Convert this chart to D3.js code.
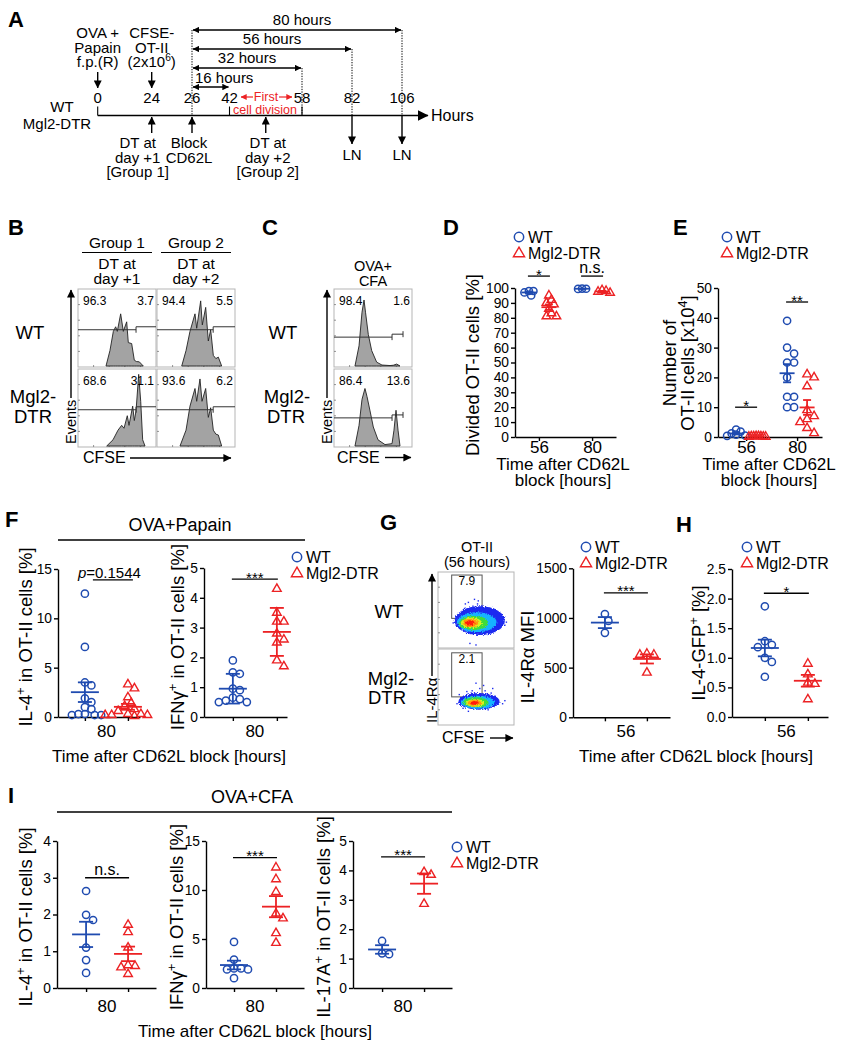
<!DOCTYPE html>
<html>
<head>
<meta charset="utf-8">
<script src="https://cdn.jsdelivr.net/npm/d3@7/dist/d3.min.js"></script>
<style>html,body{margin:0;padding:0;background:#fff;}</style>
</head>
<body>
<svg id="fig" width="846" height="1050" xmlns="http://www.w3.org/2000/svg"></svg>
<script>
// ======================= DATA =======================
// Panel A – experimental timeline (hours)
const timelineHours = [0, 24, 26, 42, 58, 82, 106];
const durationHours = [80, 56, 32, 16];
const blockHour = 26;
const injectionEvents = [
  {h: 0,  lines: ["OVA +", "Papain", "f.p.(R)"]},
  {h: 24, lines: ["CFSE-", "OT-II", "(2x10^6^)"]}
];
const belowEvents = [
  {h: 24, lines: ["DT at", "day +1", "[Group 1]"]},
  {h: 26, lines: ["Block", "CD62L"]},
  {h: 50, lines: ["DT at", "day +2", "[Group 2]"]}
];
const harvestHours = [82, 106];

// Panel B – CFSE histograms: [CFSE (% of axis), events (% of max)]
const histB_WT_G1  = [[35.9,0],[41,21],[45.3,46.8],[48.3,53],[50.4,46.8],[54.7,70.5],[58.1,46.8],[62.4,59.7],[64.5,31.6],[68.8,30.3],[72.2,7.8],[75,6],[78.6,5.6],[83.7,0]];
const histB_WT_G2  = [[31.7,0],[37.2,20.8],[42.3,46.8],[48.7,70.5],[50.9,51],[56,88],[58.1,55.5],[62.4,79.2],[65.8,33.8],[68.8,49],[72.2,14.3],[75.5,10],[78.6,12],[82.9,0]];
const histB_Mgl_G1 = [[36.8,0],[44.9,8.4],[51.3,21.4],[56,27.9],[59,24],[63.2,40.9],[65.4,27.9],[70.1,53.9],[72.2,34.4],[74.4,47.4],[77.8,96.8],[80.4,60.4],[82.9,8.4],[85.9,0]];
const histB_Mgl_G2 = [[29.5,0],[37.2,21.4],[42.3,53.9],[48.7,77.7],[50.9,60.4],[55.1,90.6],[57.7,60.4],[62.4,77.7],[65.8,38.7],[68.8,51.7],[72.2,21.4],[75.5,16],[78.6,14.9],[82.9,0]];
const gateNumsB = [["96.3","3.7"],["94.4","5.5"],["68.6","31.1"],["93.6","6.2"]];
// Panel C – OVA+CFA histograms
const histC_WT  = [[26.9,0],[32.1,27.3],[35.9,72.7],[38.5,89.2],[40.4,72.7],[44,42.5],[48.3,20.8],[54.7,5.2],[61.5,1.3],[71.8,0.6],[76,1],[80.4,2.6],[84.6,0]];
const histC_Mgl = [[26.9,0],[32.1,27.9],[35.9,63],[39.7,77.7],[42.3,66.9],[46.2,47.4],[50.4,25.7],[56.4,8.4],[65.4,1.9],[74.4,3.2],[76.9,21.4],[79.5,48.3],[82.1,21.4],[84.6,0]];
const gateNumsC = [["98.4","1.6"],["86.4","13.6"]];

// Panel G – IL-4Rα vs CFSE density (ellipse levels in % of axes) and sparse events
const flowWT_levels  = [{cx:55,cy:36,rx:33,ry:19},{cx:51,cy:34,rx:26,ry:13},{cx:47,cy:33,rx:19,ry:9.5},{cx:44,cy:33,rx:14,ry:7},{cx:43,cy:33,rx:10,ry:5.5},{cx:42,cy:33,rx:6,ry:3.5}];
const flowMgl_levels = [{cx:54,cy:31,rx:27,ry:11},{cx:52,cy:30,rx:22,ry:8.5},{cx:50,cy:30,rx:17,ry:6.5},{cx:49,cy:29,rx:12,ry:5},{cx:48,cy:29,rx:9,ry:4},{cx:48,cy:29,rx:5.5,ry:2.5}];
const flowWT_events  = [[40,60],[46,55],[52,58],[35,52],[60,50],[48,64],[55,47],[65,45],[30,45],[72,40],[80,38],[85,35],[88,30],[25,30],[20,33],[78,28],[42,6],[50,4],[62,48],[44,50],[38,47],[70,44],[58,55],[33,40],[90,34],[27,38],[68,52],[75,46],[53,62],[36,58]];
const flowMgl_events = [[45,45],[55,48],[62,45],[70,42],[38,44],[30,35],[80,30],[85,28],[25,28],[75,38],[50,55],[60,52],[66,20],[40,18],[33,22],[88,32],[57,40],[48,42],[72,48],[28,40]];
const gatePctG = ["7.9", "2.1"];

// Panel D – divided OT-II cells [%]
const timesDE = [56, 80];
const divWT56  = [95, 97, 98, 98];
const divMgl56 = [95, 92, 90, 89, 86, 83, 81, 81];
const divWT80  = [99.6, 99.5, 99.4];
const divMgl80 = [98.5, 97.5, 96.8, 98];
// Panel E – number of OT-II cells [x10^4]
const numWT56  = [2.5, 1.8, 1.2, 0.8, 0.5, 0.4];
const numMgl56 = [0.3, 0.2, 0.1, 0.2, 0.3, 0.1, 0.2, 0.15];
const numWT80  = [39, 30, 28, 25, 25, 20, 13.5, 13.5, 10, 10];
const numMgl80 = [21, 20, 17, 9, 7, 6, 5, 3, 1.3];
// Panel F – OVA+Papain, 80 h
const fIL4WT  = [12.5, 7.1, 3.5, 3.2, 1.9, 1.5, 1.0, 0.8, 0.3, 0.2, 0.2, 0.3, 0.2];
const fIL4Mgl = [3.3, 2.9, 2.0, 1.4, 1.1, 0.8, 0.6, 0.3, 0.2, 0.2, 0.2, 0.1, 0.3];
const fIFNWT  = [1.9, 1.5, 1.45, 0.95, 0.9, 0.65, 0.6, 0.55, 0.5, 0.5];
const fIFNMgl = [4.3, 3.5, 3.2, 3.2, 2.8, 2.6, 2.5, 1.9, 1.7];
// Panel G – IL-4Rα MFI, 56 h
const gMFIWT  = [1040, 970, 850];
const gMFIMgl = [630, 640, 630, 450];
// Panel H – IL-4-GFP+ [%], 56 h
const hGFPWT  = [1.87, 1.28, 1.22, 1.18, 1.0, 0.93, 0.68];
const hGFPMgl = [0.9, 0.72, 0.58, 0.56, 0.3];
// Panel I – OVA+CFA, 80 h
const iIL4WT   = [2.64, 1.99, 1.85, 1.1, 0.76, 0.41];
const iIL4Mgl  = [1.72, 1.52, 1.1, 0.62, 0.56, 0.6, 0.38];
const iIFNWT   = [4.7, 2.9, 2.0, 2.0, 1.9, 1.9, 1.0];
const iIFNMgl  = [12.3, 11.1, 9.8, 7.6, 7.1, 5.6, 4.6];
const iIL17WT  = [1.6, 1.15, 1.18];
const iIL17Mgl = [3.94, 3.85, 2.86];

// ======================= DRAWING =======================
const FONT = '"Liberation Sans", Arial, Helvetica, sans-serif';
const BLUE = "#1f4bb0", RED = "#ec2224";
const YLAB = 18.5, YTICK = 13.8;
const svg = d3.select("#fig").attr("font-family", FONT);
svg.append("rect").attr("width", 846).attr("height", 1050).attr("fill", "#fff");
const defs = svg.append("defs");

function mkMarker(id, color, w, h) {
  defs.append("marker").attr("id", id).attr("viewBox", "0 0 10 10")
    .attr("refX", 9.5).attr("refY", 5).attr("markerUnits", "userSpaceOnUse")
    .attr("markerWidth", w).attr("markerHeight", h).attr("orient", "auto-start-reverse")
    .append("path").attr("d", "M0,0L10,5L0,10Z").attr("fill", color);
}
mkMarker("ahA", "#000", 8, 8);
mkMarker("ahS", "#000", 7, 6.5);
mkMarker("ahBig", "#000", 11, 12);
mkMarker("ahM", "#000", 9, 8);
mkMarker("ahR", RED, 6, 6);
const flt = defs.append("filter").attr("id", "grain").attr("x", "-20%").attr("y", "-20%").attr("width", "140%").attr("height", "140%");
flt.append("feTurbulence").attr("type", "fractalNoise").attr("baseFrequency", 0.9).attr("numOctaves", 2).attr("seed", 3).attr("result", "n");
flt.append("feDisplacementMap").attr("in", "SourceGraphic").attr("in2", "n").attr("scale", 4).attr("xChannelSelector", "R").attr("yChannelSelector", "G");

function richText(t, str, fs) {
  const segs = str.split("^");
  let shifted = false;
  segs.forEach((s, i) => {
    if (!s) return;
    const sup = i % 2 === 1;
    const ts = t.append("tspan").text(s);
    if (sup) { ts.attr("font-size", fs * 0.68).attr("dy", -fs * 0.38); shifted = true; }
    else if (shifted) { ts.attr("dy", fs * 0.38); shifted = false; }
  });
}
function T(x, y, str, fs, anchor = "middle", o = {}) {
  const t = svg.append("text").attr("x", x).attr("y", y).attr("font-size", fs)
    .attr("text-anchor", anchor).attr("fill", o.fill || "#000");
  if (o.weight) t.attr("font-weight", o.weight);
  if (o.rotate) t.attr("transform", `rotate(-90,${x},${y})`);
  richText(t, str, fs);
  return t;
}
function L(x1, y1, x2, y2, o = {}) {
  const l = svg.append("line").attr("x1", x1).attr("y1", y1).attr("x2", x2).attr("y2", y2)
    .attr("stroke", o.color || "#000").attr("stroke-width", o.w || 1.3);
  if (o.dash) l.attr("stroke-dasharray", o.dash);
  if (o.end) l.attr("marker-end", `url(#${o.end})`);
  if (o.start) l.attr("marker-start", `url(#${o.start})`);
  return l;
}
function letter(x, y, s) { T(x, y, s, 22, "start", {weight: "bold"}); }

// ---------------- Panel A ----------------
letter(8, 27, "A");
const xA = d3.scaleLinear().domain(timelineHours).range([97.7, 151.7, 192, 229.5, 302, 352, 402]);
const axY = 115.5;
L(xA(0), axY, 428, axY, {w: 1.4, end: "ahBig"});
T(431, 121, "Hours", 16, "start");
timelineHours.forEach(h => T(xA(h), 103, String(h), 15));
[0, 42, 58].forEach(h => L(xA(h), 106.5, xA(h), axY, {w: 1.1}));
const durY = [30, 49, 68, 87];
durationHours.forEach((d, i) => {
  const y = durY[i], x1 = xA(blockHour), x2 = xA(blockHour + d);
  L(x1 + 1, y, x2 - 1, y, {w: 1.4, start: "ahS", end: "ahS"});
  if (i < 3) {
    T((x1 + x2) / 2 + (i === 0 ? 5 : 0), y - 5, `${d} hours`, 15);
    L(x2, y, x2, axY, {w: 1, dash: "1.3,1.3"});
  } else {
    T(x1 + 3, y - 4, `${d} hours`, 15, "start");
  }
});
L(xA(blockHour), durY[0], xA(blockHour), axY, {w: 1, dash: "1.3,1.3"});
injectionEvents.forEach(ev => {
  ev.lines.forEach((s, k) => T(xA(ev.h), 38 + k * 14.5, s, 15));
  L(xA(ev.h), 72, xA(ev.h), 88, {w: 1.4, end: "ahA"});
});
const belowShift = [-14, -3, 2];
belowEvents.forEach((ev, i) => {
  L(xA(ev.h), 133, xA(ev.h), 117, {w: 1.4, end: "ahA"});
  ev.lines.forEach((s, k) => T(xA(ev.h) + belowShift[i], 148 + k * 14.5, s, 15));
});
harvestHours.forEach(h => {
  L(xA(h), axY, xA(h), 144, {w: 1.4, end: "ahA"});
  T(xA(h), 160, "LN", 15);
});
T(62, 112, "WT", 15);
T(57, 129, "Mgl2-DTR", 15);
T(266, 101, "First", 12.5, "middle", {fill: RED});
L(253, 97, 241, 97, {color: RED, w: 1.2, end: "ahR"});
L(279, 97, 292, 97, {color: RED, w: 1.2, end: "ahR"});
T(265, 113.5, "cell division", 12.5, "middle", {fill: RED});

// ---------------- Histogram helper (B, C) ----------------
function histBox(x, y, w, h, data, nums, gate) {
  const g = svg.append("g");
  const sx = d3.scaleLinear().domain([0, 100]).range([x, x + w]);
  const sy = d3.scaleLinear().domain([0, 100]).range([y + h - 1, y + 3]);
  g.append("rect").attr("x", x).attr("y", y).attr("width", w).attr("height", h)
    .attr("fill", "#fff").attr("stroke", "#b5b5b5").attr("stroke-width", 1);
  for (let k = 1; k <= 4; k++) {
    g.append("line").attr("x1", x).attr("x2", x + 2).attr("y1", y + h * k / 5).attr("y2", y + h * k / 5).attr("stroke", "#777").attr("stroke-width", 0.8);
    g.append("line").attr("y1", y + h).attr("y2", y + h - 2).attr("x1", x + w * k / 5).attr("x2", x + w * k / 5).attr("stroke", "#777").attr("stroke-width", 0.8);
  }
  const area = d3.area().x(d => sx(d[0])).y0(sy(0)).y1(d => sy(d[1]));
  g.append("path").datum(data).attr("d", area).attr("fill", "#a3a3a3").attr("stroke", "#222").attr("stroke-width", 0.9);
  const gy1 = sy(gate.y1), gy2 = sy(gate.y2);
  g.append("path").attr("d", `M${sx(0)},${gy1}H${sx(gate.split)}`).attr("stroke", "#333").attr("stroke-width", 1).attr("fill", "none");
  g.append("path").attr("d", `M${sx(gate.split)},${gy1 + 3}V${gy2}H${sx(gate.end)}` + (gate.end < 100 ? `M${sx(gate.end)},${gy2 - 3}V${gy2 + 3}` : ""))
    .attr("stroke", "#333").attr("stroke-width", 1).attr("fill", "none");
  T(x + 5, y + 16, nums[0], 12, "start");
  T(x + w - 2, y + 16, nums[1], 12, "end");
}

// ---------------- Panel B ----------------
letter(8, 235, "B");
const bCols = [78, 157], bRows = [289, 369], bW = 78, bH = 78;
[["Group 1", "day +1"], ["Group 2", "day +2"]].forEach((c, i) => {
  const cx = bCols[i] + bW / 2;
  T(cx, 248, c[0], 15.5);
  L(cx - 35, 252.5, cx + 35, 252.5, {w: 1.2});
  T(cx, 269, "DT at", 15.5);
  T(cx, 284, c[1], 15.5);
});
const histsB = [histB_WT_G1, histB_WT_G2, histB_Mgl_G1, histB_Mgl_G2];
histsB.forEach((hd, i) => {
  const r = Math.floor(i / 2), c = i % 2;
  histBox(bCols[c], bRows[r], bW, bH, hd, gateNumsB[i], {y1: 49, y2: 53, split: c === 0 ? 74.4 : 72, end: 100});
});
T(30, 339, "WT", 18.5);
T(33, 403, "Mgl2-", 18.5);
T(33, 423, "DTR", 18.5);
L(71, 398, 71, 290, {w: 1.4, end: "ahM"});
T(76, 444, "Events", 14.5, "start", {rotate: true});
T(83, 463, "CFSE", 16, "start");
L(130, 458, 231, 458, {w: 1.4, end: "ahM"});

// ---------------- Panel C ----------------
letter(262, 235, "C");
T(373, 271, "OVA+", 14.5);
T(373, 286, "CFA", 14.5);
histBox(334, bRows[0], bW, bH, histC_WT, gateNumsC[0], {y1: 39, y2: 43, split: 74.4, end: 88.5});
histBox(334, bRows[1], bW, bH, histC_Mgl, gateNumsC[1], {y1: 38, y2: 42, split: 74.4, end: 88.5});
T(283, 339, "WT", 18.5);
T(287, 403, "Mgl2-", 18.5);
T(286, 423, "DTR", 18.5);
L(327, 398, 327, 290, {w: 1.4, end: "ahM"});
T(332, 444, "Events", 14.5, "start", {rotate: true});
T(337, 463, "CFSE", 16, "start");
L(385, 457.5, 411, 457.5, {w: 1.4, end: "ahM"});

// ---------------- Scatter helper ----------------
function drawMarker(g, kind, x, y, col, s = 1) {
  if (kind === "wt") {
    g.append("circle").attr("cx", x).attr("cy", y).attr("r", 3.6 * s).attr("fill", "none").attr("stroke", col).attr("stroke-width", 1.5);
  } else {
    const a = 8.6 * s, hh = a * 0.866;
    g.append("path").attr("d", `M${x},${y - 2 * hh / 3}L${x + a / 2},${y + hh / 3}L${x - a / 2},${y + hh / 3}Z`)
      .attr("fill", "none").attr("stroke", col).attr("stroke-width", 1.4);
  }
}
function swarm(vals, y, cx, dmin) {
  const pts = vals.map(v => ({v, py: y(v), px: cx})).sort((a, b) => a.py - b.py);
  const placed = [];
  pts.forEach(p => {
    for (let k = 0; k < 80; k++) {
      const off = k === 0 ? 0 : ((k % 2) ? 1 : -1) * Math.ceil(k / 2) * dmin * 0.5;
      if (placed.every(q => Math.hypot(q.px - (cx + off), q.py - p.py) >= dmin - 0.01)) { p.px = cx + off; break; }
    }
    placed.push(p);
  });
  return placed;
}
function styleAxis(ga, fs) {
  ga.attr("font-family", FONT).attr("font-size", fs);
  ga.select(".domain").attr("stroke", "#000").attr("stroke-width", 1.4);
  ga.selectAll(".tick line").attr("stroke", "#000").attr("stroke-width", 1.4);
  ga.selectAll(".tick text").attr("fill", "#000");
}
function legend(x, y) {
  const g = svg.append("g");
  drawMarker(g, "wt", x, y, BLUE, 1.3);
  drawMarker(g, "mgl", x, y + 16.5, RED, 1.3);
  T(x + 9, y + 5.5, "WT", 16, "start");
  T(x + 9, y + 22, "Mgl2-DTR", 16, "start");
}
function yLabel(cx, cy, s) { T(cx + YLAB * 0.36, cy, s, YLAB, "middle", {rotate: true}); }
function scatterPanel(c) {
  const g = svg.append("g");
  const y = d3.scaleLinear().domain(c.yDomain).range([c.yBottom, c.yTop]);
  const ga = g.append("g").attr("transform", `translate(${c.x0},0)`)
    .call(d3.axisLeft(y).tickValues(c.yTicks).tickFormat(c.yFormat || d3.format("d")).tickSize(4).tickSizeOuter(0).tickPadding(2));
  styleAxis(ga, YTICK);
  let gx;
  if (c.times) {
    const xt = d3.scalePoint().domain(c.times).range([c.x0, c.x1]).padding(c.pad).align(c.align);
    const ax = g.append("g").attr("transform", `translate(0,${c.yBottom})`)
      .call(d3.axisBottom(xt).tickSize(4).tickSizeOuter(0).tickPadding(0));
    styleAxis(ax, 17);
    gx = gr => xt(gr.time) + (gr.kind === "wt" ? -c.off : c.off);
  } else {
    const xg = d3.scalePoint().domain(["WT", "Mgl2-DTR"]).range([c.x0, c.x1]).padding(c.pad).align(c.align);
    const ax = g.append("g").attr("transform", `translate(0,${c.yBottom})`)
      .call(d3.axisBottom(xg).tickSize(4).tickSizeOuter(0).tickFormat(""));
    styleAxis(ax, 17);
    T((xg("WT") + xg("Mgl2-DTR")) / 2, c.yBottom + c.tlOff, c.timeLabel, 17);
    gx = gr => xg(gr.kind === "wt" ? "WT" : "Mgl2-DTR");
  }
  c.groups.forEach(gr => {
    const cx = gx(gr), col = gr.kind === "wt" ? BLUE : RED;
    swarm(gr.vals, y, cx, gr.dmin || c.dmin).forEach(p => drawMarker(g, gr.kind, p.px, p.py, col));
    const m = d3.mean(gr.vals), sd = d3.deviation(gr.vals);
    const e = c.err === "sd" ? sd : sd / Math.sqrt(gr.vals.length);
    const lw = 1.8;
    g.append("line").attr("x1", cx - c.meanW).attr("x2", cx + c.meanW).attr("y1", y(m)).attr("y2", y(m)).attr("stroke", col).attr("stroke-width", lw);
    g.append("line").attr("x1", cx).attr("x2", cx).attr("y1", y(m - e)).attr("y2", y(m + e)).attr("stroke", col).attr("stroke-width", lw);
    [m - e, m + e].forEach(v => g.append("line").attr("x1", cx - c.capW).attr("x2", cx + c.capW).attr("y1", y(v)).attr("y2", y(v)).attr("stroke", col).attr("stroke-width", lw));
  });
  (c.sigs || []).forEach(s => {
    const a = gx(c.groups[s.g[0]]), b = gx(c.groups[s.g[1]]);
    const ly = y(s.v);
    if (s.p) {
      L(a + 8, ly, b + 5, ly, {w: 1.3});
      const t = svg.append("text").attr("x", (a + b) / 2 + 3).attr("y", ly - 2).attr("font-size", 15).attr("text-anchor", "middle");
      t.append("tspan").attr("font-style", "italic").text("p");
      t.append("tspan").text(s.text);
    } else {
      L(a - 1, ly, b + 1, ly, {w: 1.3});
      const star = s.text.indexOf("*") >= 0;
      T((a + b) / 2, star ? ly + 3.5 : ly - 3, s.text, star ? 15 : 16);
    }
  });
  c.yLabel.forEach(l => yLabel(l.x, l.y, l.s));
}

// ---------------- Panel D ----------------
letter(443, 235, "D");
legend(519, 237);
scatterPanel({x0: 515, x1: 616, yTop: 288, yBottom: 437, yDomain: [0, 100], yTicks: d3.range(0, 101, 10),
  times: timesDE, pad: 0.45, align: 0.5, off: 10, err: "sem", meanW: 7.5, capW: 4, dmin: 4.5,
  groups: [{time: 56, kind: "wt", vals: divWT56}, {time: 56, kind: "mgl", vals: divMgl56, dmin: 5},
           {time: 80, kind: "wt", vals: divWT80, dmin: 4}, {time: 80, kind: "mgl", vals: divMgl80, dmin: 4}],
  sigs: [{g: [0, 1], v: 108, text: "*"}, {g: [2, 3], v: 108, text: "n.s."}],
  yLabel: [{x: 472, y: 365, s: "Divided OT-II cells [%]"}]});
T(563, 470, "Time after CD62L", 17);
T(563, 486, "block [hours]", 17);

// ---------------- Panel E ----------------
letter(673, 235, "E");
legend(727, 237);
scatterPanel({x0: 718, x1: 822, yTop: 288, yBottom: 437, yDomain: [0, 50], yTicks: d3.range(0, 51, 10),
  times: timesDE, pad: 0.52, align: 0.53, off: 10, err: "sem", meanW: 7.5, capW: 4, dmin: 7,
  groups: [{time: 56, kind: "wt", vals: numWT56, dmin: 4.5}, {time: 56, kind: "mgl", vals: numMgl56, dmin: 2.4},
           {time: 80, kind: "wt", vals: numWT80}, {time: 80, kind: "mgl", vals: numMgl80}],
  sigs: [{g: [0, 1], v: 10, text: "*"}, {g: [2, 3], v: 45.3, text: "**"}],
  yLabel: [{x: 669, y: 363, s: "Number of"}, {x: 687, y: 363, s: "OT-II cells [x10^4^]"}]});
T(769, 470, "Time after CD62L", 17);
T(769, 486, "block [hours]", 17);

// ---------------- Panel F ----------------
letter(5, 527, "F");
T(180, 531, "OVA+Papain", 18);
L(58, 540, 305, 540, {w: 1.3});
scatterPanel({x0: 58, x1: 140, yTop: 569, yBottom: 717, yDomain: [0, 15], yTicks: [0, 5, 10, 15],
  pad: 0.453, align: 0.69, timeLabel: "80", tlOff: 20, err: "sem", meanW: 14, capW: 7, dmin: 6.5,
  groups: [{kind: "wt", vals: fIL4WT}, {kind: "mgl", vals: fIL4Mgl}],
  sigs: [{g: [0, 1], v: 13.9, text: "=0.1544", p: true}],
  yLabel: [{x: 25, y: 637, s: "IL-4^+^ in OT-II cells [%]"}]});
scatterPanel({x0: 204, x1: 287, yTop: 568, yBottom: 717, yDomain: [0, 5], yTicks: [0, 1, 2, 3, 4, 5],
  pad: 0.443, align: 0.74, timeLabel: "80", tlOff: 20, err: "sd", meanW: 14, capW: 7, dmin: 7,
  groups: [{kind: "wt", vals: fIFNWT}, {kind: "mgl", vals: fIFNMgl}],
  sigs: [{g: [0, 1], v: 4.63, text: "***"}],
  yLabel: [{x: 177, y: 637, s: "IFNγ^+^ in OT-II cells [%]"}]});
legend(297, 557);
T(169, 762, "Time after CD62L block [hours]", 17);

// ---------------- Panel G ----------------
letter(380, 530, "G");
T(477, 552, "OT-II", 14.5);
T(477, 567, "(56 hours)", 14.5);
const densColors = ["#1e2cf0", "#19b4ff", "#3ddc3d", "#d8f020", "#ff9a10", "#ff1a10"];
function flowBox(x, y, w, h, levels, events, gate, pct) {
  const g = svg.append("g");
  const sx = d3.scaleLinear().domain([0, 100]).range([x, x + w]);
  const sy = d3.scaleLinear().domain([0, 100]).range([y + h, y]);
  g.append("rect").attr("x", x).attr("y", y).attr("width", w).attr("height", h).attr("fill", "#fff").attr("stroke", "#b5b5b5");
  for (let k = 1; k <= 4; k++) {
    g.append("line").attr("x1", x).attr("x2", x + 2).attr("y1", y + h * k / 5).attr("y2", y + h * k / 5).attr("stroke", "#777").attr("stroke-width", 0.8);
  }
  g.append("rect").attr("x", sx(gate[0])).attr("y", sy(gate[3])).attr("width", sx(gate[1]) - sx(gate[0])).attr("height", sy(gate[2]) - sy(gate[3]))
    .attr("fill", "none").attr("stroke", "#555").attr("stroke-width", 1);
  events.forEach(e => g.append("rect").attr("x", sx(e[0]) - 0.7).attr("y", sy(e[1]) - 0.7).attr("width", 1.4).attr("height", 1.4).attr("fill", "#1e2cf0"));
  const blob = g.append("g").attr("filter", "url(#grain)");
  levels.forEach((l, i) => blob.append("ellipse").attr("cx", sx(l.cx)).attr("cy", sy(l.cy))
    .attr("rx", sx(l.rx) - sx(0)).attr("ry", sy(0) - sy(l.ry)).attr("fill", densColors[i]));
  T((sx(gate[0]) + sx(gate[1])) / 2, sy(gate[3]) + 10, pct, 12);
}
flowBox(438, 572, 76, 76, flowWT_levels, flowWT_events, [18, 58, 39, 96], gatePctG[0]);
flowBox(438, 649, 76, 76, flowMgl_levels, flowMgl_events, [18, 58, 37, 95], gatePctG[1]);
T(389, 618, "WT", 18.5);
T(391, 685, "Mgl2-", 18.5);
T(387, 704, "DTR", 18.5);
L(432, 676, 432, 574, {w: 1.4, end: "ahM"});
T(437, 723, "IL-4Rα", 15, "start", {rotate: true});
T(442, 743, "CFSE", 16, "start");
L(490, 738, 513, 738, {w: 1.4, end: "ahM"});
scatterPanel({x0: 573, x1: 670, yTop: 568.3, yBottom: 717.3, yDomain: [0, 1500], yTicks: [0, 500, 1000, 1500],
  pad: 0.655, align: 0.58, timeLabel: "56", tlOff: 20, err: "sem", meanW: 14, capW: 7, dmin: 7,
  groups: [{kind: "wt", vals: gMFIWT}, {kind: "mgl", vals: gMFIMgl}],
  sigs: [{g: [0, 1], v: 1252, text: "***"}],
  yLabel: [{x: 527, y: 657, s: "IL-4Rα MFI"}]});
legend(586, 547);

// ---------------- Panel H ----------------
letter(676, 532, "H");
scatterPanel({x0: 732, x1: 828, yTop: 569, yBottom: 717, yDomain: [0, 2.5], yTicks: [0, 0.5, 1, 1.5, 2, 2.5], yFormat: d3.format(".1f"),
  pad: 0.616, align: 0.62, timeLabel: "56", tlOff: 20, err: "sem", meanW: 14, capW: 7, dmin: 7,
  groups: [{kind: "wt", vals: hGFPWT}, {kind: "mgl", vals: hGFPMgl}],
  sigs: [{g: [0, 1], v: 2.09, text: "*"}],
  yLabel: [{x: 698, y: 643, s: "IL-4-GFP^+^ [%]"}]});
legend(747, 547);
T(696, 762, "Time after CD62L block [hours]", 17);

// ---------------- Panel I ----------------
letter(8, 803, "I");
T(252, 803, "OVA+CFA", 18);
L(57, 812, 452, 812, {w: 1.3});
scatterPanel({x0: 57, x1: 156, yTop: 841, yBottom: 988, yDomain: [0, 4], yTicks: [0, 1, 2, 3, 4],
  pad: 0.679, align: 0.51, timeLabel: "80", tlOff: 24, err: "sem", meanW: 14, capW: 7, dmin: 7,
  groups: [{kind: "wt", vals: iIL4WT}, {kind: "mgl", vals: iIL4Mgl}],
  sigs: [{g: [0, 1], v: 3.0, text: "n.s."}],
  yLabel: [{x: 25, y: 917, s: "IL-4^+^ in OT-II cells [%]"}]});
scatterPanel({x0: 206, x1: 304, yTop: 841, yBottom: 988, yDomain: [0, 15], yTicks: [0, 5, 10, 15],
  pad: 0.667, align: 0.5, timeLabel: "80", tlOff: 24, err: "sem", meanW: 14, capW: 7, dmin: 7,
  groups: [{kind: "wt", vals: iIFNWT}, {kind: "mgl", vals: iIFNMgl}],
  sigs: [{g: [0, 1], v: 13.3, text: "***"}],
  yLabel: [{x: 176, y: 917, s: "IFNγ^+^ in OT-II cells [%]"}]});
scatterPanel({x0: 353, x1: 452, yTop: 841, yBottom: 988, yDomain: [0, 5], yTicks: [0, 1, 2, 3, 4, 5],
  pad: 0.679, align: 0.51, timeLabel: "80", tlOff: 24, err: "sem", meanW: 14, capW: 7, dmin: 7,
  groups: [{kind: "wt", vals: iIL17WT}, {kind: "mgl", vals: iIL17Mgl}],
  sigs: [{g: [0, 1], v: 4.46, text: "***"}],
  yLabel: [{x: 323, y: 917, s: "IL-17A^+^ in OT-II cells [%]"}]});
legend(457, 847);
T(255, 1037, "Time after CD62L block [hours]", 17);
</script>
</body>
</html>
